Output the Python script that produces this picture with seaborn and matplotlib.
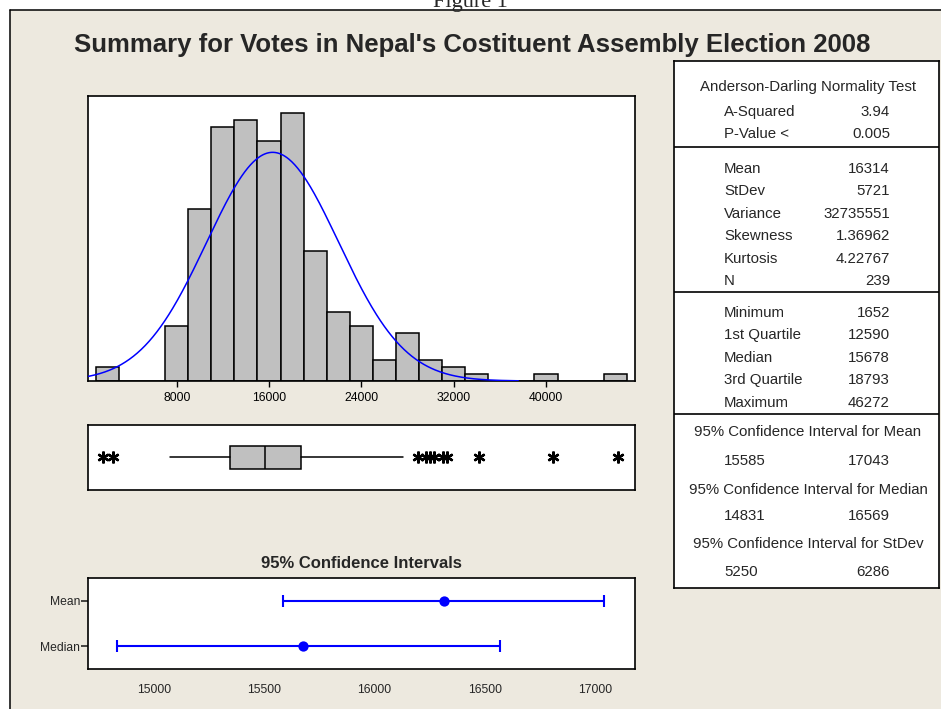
import numpy as np
import matplotlib
matplotlib.use("Agg")
import matplotlib.pyplot as plt
from matplotlib.lines import Line2D
from matplotlib.patches import Rectangle
import seaborn as sns

# ---- data -------------------------------------------------------------
bin_centers = [2000, 4000, 6000, 8000, 10000, 12000, 14000, 16000, 18000,
               20000, 22000, 24000, 26000, 28000, 30000, 32000, 34000,
               36000, 38000, 40000, 42000, 44000, 46000]
bin_counts = [2, 0, 0, 8, 25, 37, 38, 35, 39, 19, 10, 8, 3, 7, 3, 2, 1,
              0, 0, 1, 0, 0, 1]
hist_ticks = [8000, 16000, 24000, 32000, 40000]

n_obs = 239
mean_votes = 16314
sd_votes = 5721

q1_votes = 12590
median_votes = 15678
q3_votes = 18793
whisker_low = 7444
whisker_high = 27634
outliers = [1652, 2504, 28882, 29601, 29948, 30321, 31101, 31447,
            34220, 40633, 46272]

ci_labels = ["Mean", "Median"]
ci_estimate = [16314, 15678]
ci_lower = [15585, 14831]
ci_upper = [17043, 16569]
ci_ticks = [15000, 15500, 16000, 16500, 17000]

ad_rows = [("A-Squared", "3.94"), ("P-Value <", "0.005")]
moment_rows = [("Mean", "16314"), ("StDev", "5721"), ("Variance", "32735551"),
               ("Skewness", "1.36962"), ("Kurtosis", "4.22767"), ("N", "239")]
quantile_rows = [("Minimum", "1652"), ("1st Quartile", "12590"),
                 ("Median", "15678"), ("3rd Quartile", "18793"),
                 ("Maximum", "46272")]
ci_rows = [("95% Confidence Interval for Mean", "15585", "17043"),
           ("95% Confidence Interval for Median", "14831", "16569"),
           ("95% Confidence Interval for StDev", "5250", "6286")]

# ---- styling ----------------------------------------------------------
sns.set_style("white")
plt.rcParams["font.family"] = ["Liberation Sans", "DejaVu Sans"]
plt.rcParams["xtick.labelsize"] = 8.7
plt.rcParams["ytick.labelsize"] = 8.7

BEIGE = "#EDE9DF"
GREY = "#C0C0C0"
BLUE = "#0000FF"

W, H = 941, 709
fig = plt.figure(figsize=(W / 100, H / 100), dpi=100, facecolor="white")


def px_axes(x0, y0, x1, y1):
    """Axes placed by pixel box (top-left origin)."""
    return fig.add_axes([x0 / W, 1 - y1 / H, (x1 - x0) / W, (y1 - y0) / H])


# beige window area with its frame
fig.patches.append(Rectangle((10 / W, 0), 1, 1 - 10 / H,
                             transform=fig.transFigure, facecolor=BEIGE,
                             edgecolor="none", zorder=-10))
fig.lines.append(Line2D([10 / W, 10 / W], [0, 1 - 10 / H],
                        transform=fig.transFigure, color="black", lw=1.1))
fig.lines.append(Line2D([10 / W, 1], [1 - 10 / H, 1 - 10 / H],
                        transform=fig.transFigure, color="black", lw=1.1))

fig.text(470 / W, 1 - 7 / H, "Figure 1", ha="center", va="baseline",
         fontsize=16, family=["Liberation Serif", "DejaVu Serif"])
fig.text(472 / W, 1 - 52 / H,
         "Summary for Votes in Nepal's Costituent Assembly Election 2008",
         ha="center", va="baseline", fontsize=18.5, fontweight="bold")


def frame(ax):
    ax.set_facecolor("white")
    for s in ax.spines.values():
        s.set_visible(True)
        s.set_color("black")
        s.set_linewidth(1.2)


# ---- histogram with fitted normal curve -------------------------------
XLIM = (340, 47690)
ax_h = px_axes(88.3, 96.3, 634.7, 381)
frame(ax_h)
bin_edges = [c - 1000 for c in bin_centers] + [bin_centers[-1] + 1000]
sns.histplot(x=bin_centers, weights=bin_counts, bins=bin_edges, ax=ax_h,
             color=GREY, edgecolor="black", linewidth=1.1, alpha=1.0)
xs = np.linspace(mean_votes - 3.72 * sd_votes, mean_votes + 3.72 * sd_votes, 500)
dens = n_obs * 2000 * np.exp(-0.5 * ((xs - mean_votes) / sd_votes) ** 2) / (
    sd_votes * np.sqrt(2 * np.pi))
ax_h.plot(xs, dens, color=BLUE, lw=1.1, zorder=5)
ax_h.set_xlim(*XLIM)
ax_h.set_ylim(0, 41.5)
ax_h.set_xticks(hist_ticks)
ax_h.set_xticklabels([str(t) for t in hist_ticks])
ax_h.set_yticks([])
ax_h.set_xlabel("")
ax_h.set_ylabel("")
ax_h.tick_params(axis="x", direction="out", length=4, width=1, pad=4,
                 bottom=True, colors="black")

# ---- boxplot -----------------------------------------------------------
ax_b = px_axes(88.3, 425, 634.7, 489.7)
frame(ax_b)
stats = [{"med": median_votes, "q1": q1_votes, "q3": q3_votes,
          "whislo": whisker_low, "whishi": whisker_high, "fliers": outliers}]
ax_b.bxp(stats, positions=[0.5], widths=0.346, orientation="horizontal",
         showcaps=False, patch_artist=True,
         boxprops=dict(facecolor=GREY, edgecolor="black", linewidth=1.1),
         medianprops=dict(color="black", linewidth=1.1),
         whiskerprops=dict(color="black", linewidth=1.1),
         flierprops=dict(marker=(6, 2, 0), markersize=8.5, markeredgewidth=1.7,
                         markeredgecolor="black", color="black"))
ax_b.set_xlim(*XLIM)
ax_b.set_ylim(0, 1)
ax_b.set_xticks([])
ax_b.set_yticks([])

# ---- confidence intervals ---------------------------------------------
ax_c = px_axes(88.3, 577.7, 634.5, 669.3)
frame(ax_c)
ypos = np.arange(len(ci_labels))
est = np.array(ci_estimate)
err = [est - np.array(ci_lower), np.array(ci_upper) - est]
ax_c.errorbar(est, ypos, xerr=err, fmt="none", ecolor=BLUE, elinewidth=1.5,
              capsize=4.6, capthick=1.5)
sns.scatterplot(x=est, y=ypos, ax=ax_c, color=BLUE, s=55, edgecolor=BLUE,
                linewidth=0, zorder=5, legend=False)
ax_c.set_xlim(14702, 17180)
ax_c.set_ylim(1.5, -0.5)
ax_c.set_xticks(ci_ticks)
ax_c.set_xticklabels([str(t) for t in ci_ticks])
ax_c.set_yticks(ypos)
ax_c.set_yticklabels(ci_labels)
ax_c.set_xlabel("")
ax_c.set_ylabel("")
ax_c.tick_params(axis="x", bottom=False, pad=7)
ax_c.tick_params(axis="y", left=True, direction="out", length=5, width=1.2,
                 pad=1)
fig.text(361.4 / W, 1 - 564 / H, "95% Confidence Intervals", ha="center",
         va="center", fontsize=12, fontweight="bold")

# ---- summary table -----------------------------------------------------
T0, T1, TT, TB = 674, 939, 60.7, 588
ax_t = px_axes(T0, TT, T1, TB)
frame(ax_t)
ax_t.set_xlim(T0, T1)
ax_t.set_ylim(TB, TT)
ax_t.set_xticks([])
ax_t.set_yticks([])

LX, RX, CX = 724, 890, 808
fs = 10.8
ax_t.text(CX, 87, "Anderson-Darling Normality Test", ha="center",
          va="center", fontsize=fs)
for rows, y0 in ((ad_rows, 112), (moment_rows, 169), (quantile_rows, 313)):
    for i, (lab, val) in enumerate(rows):
        y = y0 + i * 22.4
        ax_t.text(LX, y, lab, ha="left", va="center", fontsize=fs)
        ax_t.text(RX, y, val, ha="right", va="center", fontsize=fs)
for ysep in (147, 291.5, 414):
    ax_t.axhline(ysep, color="black", lw=1.2)
for (title, lo, hi), yt, yv in zip(ci_rows, (432, 490, 544), (461, 516, 572)):
    ax_t.text(CX, yt, title, ha="center", va="center", fontsize=fs)
    ax_t.text(LX, yv, lo, ha="left", va="center", fontsize=fs)
    ax_t.text(RX, yv, hi, ha="right", va="center", fontsize=fs)

fig.savefig("out.png", dpi=100, facecolor="white")
